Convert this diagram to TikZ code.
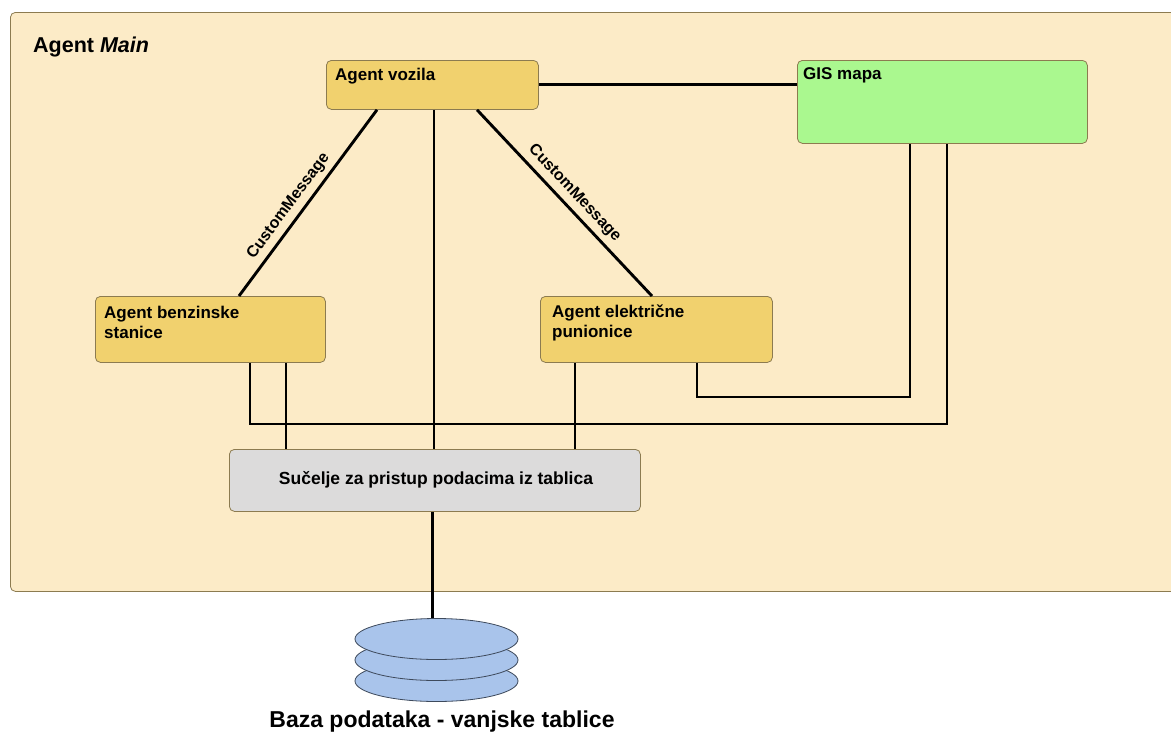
\documentclass[tikz,border=0pt]{standalone}
\usepackage{fontspec}
\setmainfont{Liberation Sans}
\usetikzlibrary{shapes.geometric}
\definecolor{mainbg}{HTML}{FCEBC7}
\definecolor{agentfill}{HTML}{F1D16E}
\definecolor{boxborder}{HTML}{8C7B50}
\definecolor{gisfill}{HTML}{AAF88F}
\definecolor{sucfill}{HTML}{DCDBDB}
\definecolor{dbfill}{HTML}{A9C4EB}
\definecolor{dbborder}{HTML}{3E4A5C}
\begin{document}
\begin{tikzpicture}[x=1pt,y=-1pt,
  box/.style={draw=boxborder, line width=0.8pt, rounded corners=5pt, anchor=north west, inner sep=0pt},
  wire/.style={line width=2.9pt, black},
  lbl/.style={font=\bfseries\fontsize{17}{20}\selectfont, anchor=base west, inner sep=0pt, align=left},
  msg/.style={font=\bfseries\fontsize{16}{18}\selectfont, sloped, above, inner sep=5pt},
  disk/.style={ellipse, draw=dbborder, line width=0.8pt, fill=dbfill, minimum width=163pt, minimum height=41pt, inner sep=0pt}]
\useasboundingbox (0,0) rectangle (1171,740);
\fill[white] (0,0) rectangle (1171,740);
% container
\node[box, fill=mainbg, minimum width=1175pt, minimum height=579pt] (main) at (10,12) {};
\node[font=\bfseries\fontsize{21.5}{25}\selectfont, anchor=base west, inner sep=0pt] (maintitle) at (33,52) {Agent \textit{Main}};
% boxes
\node[box, fill=agentfill, minimum width=212pt, minimum height=49pt] (voz) at (326,60) {};
\node[lbl] (vozt) at (335,80) {Agent vozila};
\node[box, fill=gisfill, minimum width=290pt, minimum height=83pt] (gis) at (797,60) {};
\node[lbl] (gist) at (803,79) {GIS mapa};
\node[box, fill=agentfill, minimum width=230pt, minimum height=66pt] (benz) at (95,296) {};
\node[lbl] (benzt) at (104,338) {Agent benzinske\\stanice};
\node[box, fill=agentfill, minimum width=232pt, minimum height=66pt] (elek) at (540,296) {};
\node[lbl] (elekt) at (552,337) {Agent električne\\punionice};
\node[box, fill=sucfill, minimum width=411pt, minimum height=62pt] (suc) at (229,449) {};
\node[font=\bfseries\fontsize{17.5}{20}\selectfont, inner sep=0pt] (suct) at (436,480) {Sučelje za pristup podacima iz tablica};
% database
\node[disk] (db3) at (436.5,681) {};
\node[disk] (db2) at (436.5,660) {};
\node[disk] (db1) at (436.5,639) {};
\node[font=\bfseries\fontsize{23}{27}\selectfont, inner sep=0pt] (dbt) at (442,722) {Baza podataka - vanjske tablice};
% wires
\draw[wire] (voz.east) -- (gis.west |- voz.east);
\draw[wire] ([xshift=51pt]voz.south west) -- node[msg, pos=0.56] {CustomMessage} ([xshift=144pt]benz.north west);
\draw[wire] ([xshift=151pt]voz.south west) -- node[msg, pos=0.5] {CustomMessage} ([xshift=112pt]elek.north west);
\draw[wire] ([xshift=108pt]voz.south west) -- ([xshift=108pt]voz.south west |- suc.north);
\draw[wire] ([xshift=155pt]benz.south west) |- (947,424) coordinate (c1) -- ([xshift=150pt]gis.south west);
\draw[wire] ([xshift=191pt]benz.south west) -- ([xshift=191pt]benz.south west |- suc.north);
\draw[wire] ([xshift=35pt]elek.south west) -- ([xshift=35pt]elek.south west |- suc.north);
\draw[wire] ([xshift=157pt]elek.south west) |- (910,397) coordinate (c2) -- ([xshift=113pt]gis.south west);
\draw[wire] ([xshift=-2pt]suc.south) -- ([xshift=-2pt]suc.south |- db1.north);
\end{tikzpicture}
\end{document}
